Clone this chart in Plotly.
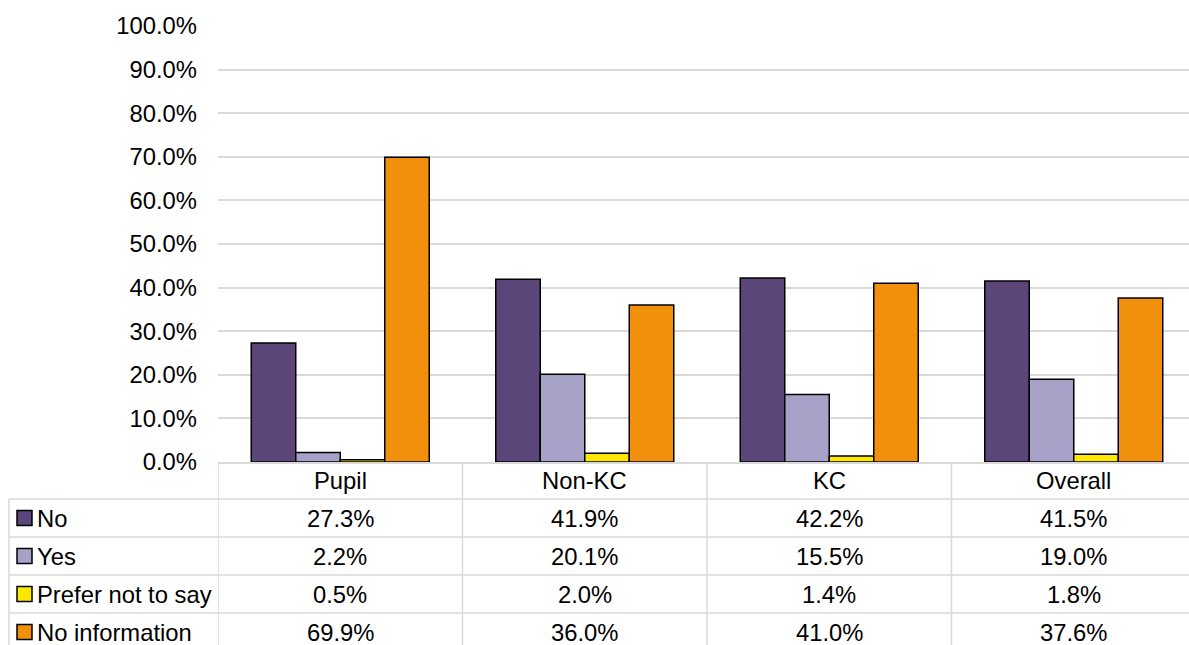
import plotly.graph_objects as go

# -------------------------
# data
# -------------------------
categories = ["Pupil", "Non-KC", "KC", "Overall"]
series_names = ["No", "Yes", "Prefer not to say", "No information"]
no_vals = [27.3, 41.9, 42.2, 41.5]
yes_vals = [2.2, 20.1, 15.5, 19.0]
prefer_vals = [0.5, 2.0, 1.4, 1.8]
noinfo_vals = [69.9, 36.0, 41.0, 37.6]
y_ticks = [0, 10, 20, 30, 40, 50, 60, 70, 80, 90, 100]

series_values = [no_vals, yes_vals, prefer_vals, noinfo_vals]
colors = ["#5B4579", "#A6A1C7", "#FFE800", "#F0900C"]

# -------------------------
# layout geometry (pixels)
# -------------------------
W, H = 1189, 645
L, T = 218, 26
PLOT_BOTTOM = 462
B = H - PLOT_BOTTOM
PW, PH = W - L, PLOT_BOTTOM - T
CAT_W = 244.5
GRID = "#d9d9d9"
FONT = "Liberation Sans, Arial, sans-serif"
FS = 23.8


def px_x(px):
    return (px - L) / PW


def px_y(py):
    return (PLOT_BOTTOM - py) / PH


fig = go.Figure()
for name, vals, col in zip(series_names, series_values, colors):
    fig.add_trace(go.Bar(
        x=list(range(len(categories))), y=vals, name=name,
        marker=dict(color=col, line=dict(color="black", width=1.5)),
        showlegend=False, hoverinfo="y+name"
    ))

shapes = []
annotations = []

# 表格橫線
row_lines = [499, 537, 575, 613, 651]
for ry in row_lines:
    shapes.append(dict(type="line", xref="paper", yref="paper",
                       x0=px_x(9), x1=1.0, y0=px_y(ry), y1=px_y(ry),
                       line=dict(color=GRID, width=1.5)))
# 表格直線
for i in range(len(categories)):
    shapes.append(dict(type="line", xref="x", yref="paper",
                       x0=i - 0.5, x1=i - 0.5, y0=0, y1=px_y(651),
                       line=dict(color=GRID, width=1.5)))
shapes.append(dict(type="line", xref="paper", yref="paper",
                   x0=px_x(9), x1=px_x(9), y0=px_y(499), y1=px_y(651),
                   line=dict(color=GRID, width=1.5)))

# 表頭
for i, c in enumerate(categories):
    annotations.append(dict(x=i, y=px_y(480.5), xref="x", yref="paper",
                            text=c, showarrow=False, yanchor="middle",
                            font=dict(size=FS, color="black", family=FONT)))

# 各列
for r, (name, vals, col) in enumerate(zip(series_names, series_values, colors)):
    cy = (row_lines[r] + row_lines[r + 1]) / 2
    shapes.append(dict(type="rect", xref="paper", yref="paper",
                       x0=px_x(17), x1=px_x(32), y0=px_y(cy - 7.5), y1=px_y(cy + 7.5),
                       fillcolor=col, line=dict(color="black", width=1.5)))
    annotations.append(dict(x=px_x(35), y=px_y(cy), xref="paper", yref="paper",
                            text=name, showarrow=False, xanchor="left", yanchor="middle",
                            font=dict(size=FS, color="black", family=FONT)))
    for i, v in enumerate(vals):
        annotations.append(dict(x=i, y=px_y(cy), xref="x", yref="paper",
                                text=f"{v:.1f}%", showarrow=False, yanchor="middle",
                                font=dict(size=FS, color="black", family=FONT)))

fig.update_layout(
    width=W, height=H,
    margin=dict(l=L, r=0, t=T, b=B, pad=0),
    paper_bgcolor="white", plot_bgcolor="white",
    barmode="group", bargap=0.272, bargroupgap=0,
    font=dict(family=FONT, size=FS, color="black"),
    xaxis=dict(range=[-0.5, -0.5 + PW / CAT_W], showticklabels=False,
               showgrid=False, zeroline=False, showline=True,
               linecolor=GRID, linewidth=1.5, fixedrange=True),
    yaxis=dict(range=[0, 100], tickvals=y_ticks,
               ticktext=[f"{t:.1f}%" for t in y_ticks],
               showgrid=True, gridcolor=GRID, gridwidth=1.5,
               zeroline=False, showline=False, ticklabelstandoff=20,
               tickfont=dict(size=FS, color="black", family=FONT)),
    shapes=shapes, annotations=annotations,
)

fig.write_html("out.html", config={"displayModeBar": False},
               post_script="document.body.style.margin='0';")
